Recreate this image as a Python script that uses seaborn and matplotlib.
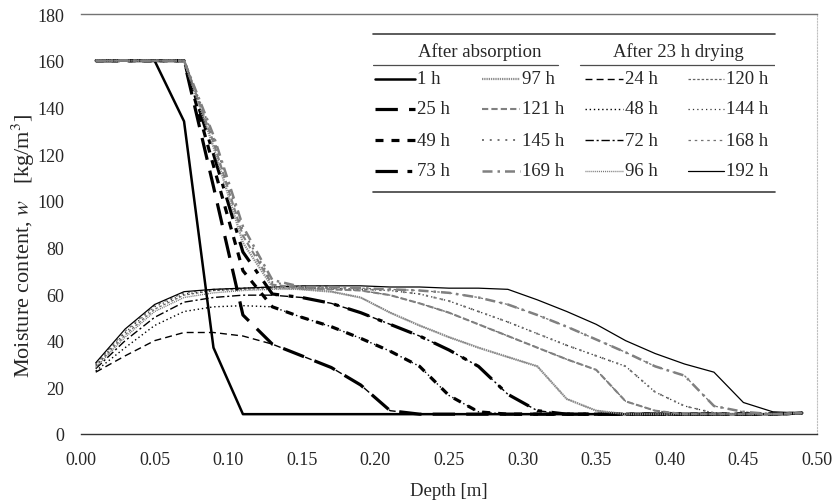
import matplotlib
import matplotlib.pyplot as plt
import seaborn as sns

matplotlib.use("Agg")

# depth grid of the model output [m]
DEPTH = [0.01, 0.03, 0.05, 0.07, 0.09, 0.11, 0.13, 0.15, 0.17, 0.19, 0.21, 0.23, 0.25,
         0.27, 0.29, 0.31, 0.33, 0.35, 0.37, 0.39, 0.41, 0.43, 0.45, 0.47, 0.49]

# after absorption [kg/m3]
W_1H = [160, 160, 160, 134, 37, 8.5, 8.5, 8.5, 8.5, 8.5, 8.5, 8.5, 8.5,
        8.5, 8.5, 8.5, 8.5, 8.5, 8.5, 8.5, 8.5, 8.5, 8.5, 8.5, 9]
W_25H = [160, 160, 160, 160, 106, 51, 38.5, 33.5, 28.5, 21, 10, 8.5, 8.5,
         8.5, 8.5, 8.5, 8.5, 8.5, 8.5, 8.5, 8.5, 8.5, 8.5, 8.5, 9]
W_49H = [160, 160, 160, 160, 115, 70, 54.5, 50, 46, 41, 35.5, 29, 16.5,
         9.5, 8.5, 8.5, 8.5, 8.5, 8.5, 8.5, 8.5, 8.5, 8.5, 8.5, 9]
W_73H = [160, 160, 160, 160, 120, 78, 60, 58.5, 56, 52, 47, 42, 36,
         29, 17, 10, 8.5, 8.5, 8.5, 8.5, 8.5, 8.5, 8.5, 8.5, 9]
W_97H = [160, 160, 160, 160, 123, 82, 63, 62, 61, 58.5, 52, 46.5, 41.5,
         37, 33, 29, 15, 10, 8.5, 8.5, 8.5, 8.5, 8.5, 8.5, 9]
W_121H = [160, 160, 160, 160, 125, 85, 64, 62.5, 62, 61.5, 59.5, 56, 52,
          47, 42, 37, 32, 27.5, 14, 10, 8.5, 8.5, 8.5, 8.5, 9]
W_145H = [160, 160, 160, 160, 127, 87, 65, 63, 62.5, 62, 61.5, 60, 57,
          52.5, 48, 43, 38, 33.5, 29, 18, 12, 9, 8.5, 8.5, 9]
W_169H = [160, 160, 160, 160, 128, 89, 66, 63, 63, 62.5, 62, 61.5, 60.5,
          58.5, 55.5, 51, 46, 40.5, 35, 29, 25, 12, 9.5, 8.5, 9]

# after 23 h drying [kg/m3]
W_24H = [26.5, 33.5, 40, 43.5, 43.5, 42, 38.5, 33.5, 28.5, 21, 10, 8.5, 8.5,
         8.5, 8.5, 8.5, 8.5, 8.5, 8.5, 8.5, 8.5, 8.5, 8.5, 8.5, 9]
W_48H = [27, 37, 46.5, 52.5, 54.5, 55, 54.5, 50, 46, 41, 35.5, 29, 16.5,
         9.5, 8.5, 8.5, 8.5, 8.5, 8.5, 8.5, 8.5, 8.5, 8.5, 8.5, 9]
W_72H = [28, 40, 50, 56.5, 58.5, 59.5, 59.5, 58.5, 56, 52, 47, 42, 36,
         29, 17, 10, 8.5, 8.5, 8.5, 8.5, 8.5, 8.5, 8.5, 8.5, 9]
W_96H = [28.5, 41.5, 52.5, 58.5, 60.5, 61.5, 62, 62, 61, 58.5, 52, 46.5, 41.5,
         37, 33, 29, 15, 10, 8.5, 8.5, 8.5, 8.5, 8.5, 8.5, 9]
W_120H = [29, 42.5, 53.5, 59.5, 61.5, 62, 62.5, 62.5, 62, 61.5, 59.5, 56, 52,
          47, 42, 37, 32, 27.5, 14, 10, 8.5, 8.5, 8.5, 8.5, 9]
W_144H = [29.5, 43.5, 54.5, 60, 61.5, 62.5, 63, 63, 62.5, 62, 61.5, 60, 57,
          52.5, 48, 43, 38, 33.5, 29, 18, 12, 9, 8.5, 8.5, 9]
W_168H = [30, 44, 55, 60.5, 62, 62.5, 63, 63, 63, 62.5, 62, 61.5, 60.5,
          58.5, 55.5, 51, 46, 40.5, 35, 29, 25, 12, 9.5, 8.5, 9]
W_192H = [30.5, 45, 55.5, 61, 62, 62.5, 63, 63.5, 63.5, 63.5, 63, 63, 62.5,
          62.5, 62, 57.5, 52.5, 47, 40, 34.5, 30, 26.5, 13.5, 9.5, 9]

ABSORPTION = [("1 h", W_1H), ("25 h", W_25H), ("49 h", W_49H), ("73 h", W_73H),
              ("97 h", W_97H), ("121 h", W_121H), ("145 h", W_145H), ("169 h", W_169H)]
DRYING = [("24 h", W_24H), ("48 h", W_48H), ("72 h", W_72H), ("96 h", W_96H),
          ("120 h", W_120H), ("144 h", W_144H), ("168 h", W_168H), ("192 h", W_192H)]

# colour, width, dash pattern
STYLE = {
    "1 h": ("black", 1.8, "-"),
    "25 h": ("black", 2.3, (0, (7, 3.5))),
    "49 h": ("black", 2.3, (0, (2.5, 2.5))),
    "73 h": ("black", 2.3, (0, (7, 3, 1.5, 3))),
    "97 h": ("0.55", 1.6, (0, (0.6, 0.4))),
    "121 h": ("0.5", 1.5, (0, (3, 1.5))),
    "145 h": ("0.45", 1.4, (0, (1, 3))),
    "169 h": ("0.5", 1.8, (0, (4, 2, 1, 2))),
    "24 h": ("black", 1.0, (0, (5, 3))),
    "48 h": ("black", 1.0, (0, (1, 2))),
    "72 h": ("black", 1.0, (0, (6, 2, 1.5, 2))),
    "96 h": ("0.45", 1.0, (0, (0.7, 0.7))),
    "120 h": ("0.4", 0.9, (0, (2, 1.5))),
    "144 h": ("0.2", 0.9, (0, (1, 2.5))),
    "168 h": ("0.45", 0.9, (0, (2, 3))),
    "192 h": ("black", 0.9, "-"),
}

sns.set_style("white")
plt.rcParams["font.family"] = ["Liberation Serif", "DejaVu Serif"]
plt.rcParams["mathtext.fontset"] = "stix"

fig = plt.figure(figsize=(8.37, 5.02), dpi=100)
ax = fig.add_axes([81 / 837, 1 - 435 / 502, 736 / 837, 420 / 502])

for label, vals in DRYING + ABSORPTION:
    color, lw, ls = STYLE[label]
    sns.lineplot(x=DEPTH, y=vals, ax=ax, color=color, linewidth=lw, linestyle=ls,
                 estimator=None, sort=False, legend=False)

ax.set_xlim(0, 0.5)
ax.set_ylim(0, 180)
ax.set_xticks([i * 0.05 for i in range(11)])
ax.set_xticklabels([f"{i * 0.05:.2f}" for i in range(11)])
ax.set_yticks(range(0, 181, 20))
ax.tick_params(axis="x", length=0, pad=12, labelsize=13)
ax.tick_params(axis="y", length=4, width=0.8, color="0.35", direction="out", pad=8, labelsize=13)
ax.spines["left"].set_visible(False)
ax.spines["bottom"].set_color("0.2")
ax.spines["bottom"].set_linewidth(1.0)
ax.spines["top"].set_color("0.45")
ax.spines["top"].set_linewidth(1.0)
ax.spines["right"].set_color("0.75")
ax.spines["right"].set_linewidth(0.8)
ax.spines["right"].set_linestyle(":")
ax.set_xlabel("Depth [m]", fontsize=13.5, labelpad=10)
ax.set_ylabel("Moisture content, $w$   [kg/m$^3$]", fontsize=16)
ax.yaxis.set_label_coords(-0.06, 0.45)

# table-like legend, coordinates in pixels inside its box
lax = fig.add_axes([373 / 837, 1 - 193 / 502, 402 / 837, 158 / 502])
lax.set_xlim(0, 402)
lax.set_ylim(158, 0)
lax.axis("off")
for y in (0, 158):
    lax.plot([0, 402], [y, y], color="0.25", lw=1.2, clip_on=False)
lax.plot([0, 185], [31, 31], color="0.3", lw=0.9)
lax.plot([207, 402], [31, 31], color="0.3", lw=0.9)
lax.text(107, 17, "After absorption", ha="center", va="center", fontsize=13.5)
lax.text(305, 17, "After 23 h drying", ha="center", va="center", fontsize=13.5)

rows = [45, 75, 106, 137]
cols = [(2, 42), (109, 147), (212, 250), (315, 351)]
groups = [ABSORPTION[:4], ABSORPTION[4:], DRYING[:4], DRYING[4:]]
for (x0, x1), group in zip(cols, groups):
    for y, (label, _) in zip(rows, group):
        color, lw, ls = STYLE[label]
        lax.plot([x0, x1], [y, y], color=color, lw=lw, linestyle=ls)
        lax.text(x1 + 2, y, label, ha="left", va="center", fontsize=13.5)

fig.savefig("out.png", dpi=100)
